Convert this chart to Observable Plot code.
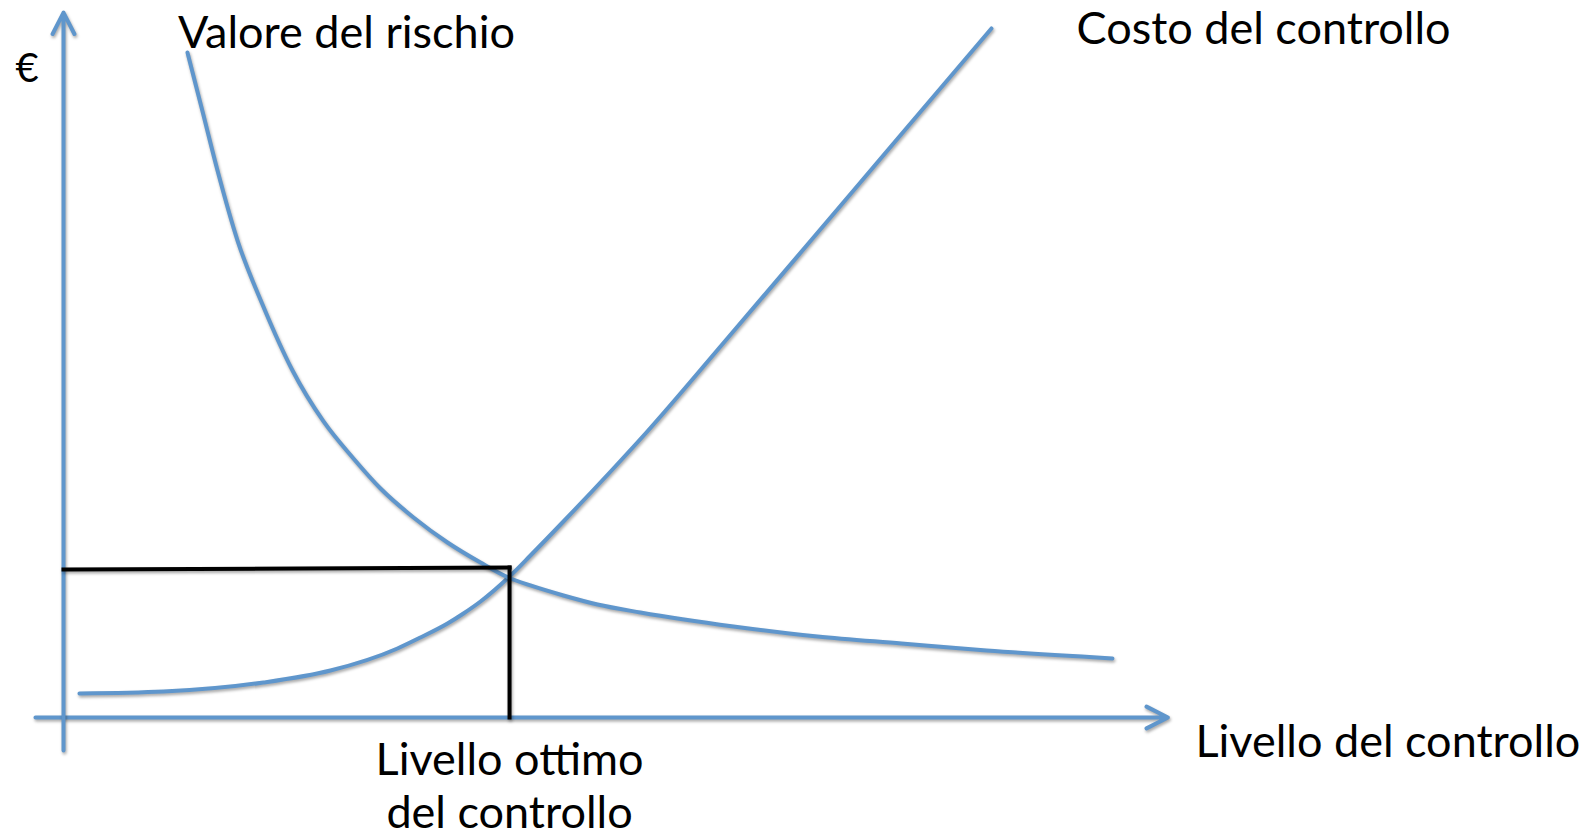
<!DOCTYPE html>
<html><head><meta charset="utf-8">
<script src="https://cdn.jsdelivr.net/npm/d3@7"></script>
<script src="https://cdn.jsdelivr.net/npm/@observablehq/plot@0.6"></script>
<style>
body{margin:0;background:#fff;}
#chart svg g[aria-label="line"], #chart svg g[aria-label="arrow"], #chart svg g[aria-label="link"] { filter: drop-shadow(1px 2px 1.5px rgba(0,0,0,0.35)); }
</style>
</head><body><div id="chart"></div>
<script>
// Costo del controllo (level of control -> cost)
const costoX = [1.45, 9.09, 18.18, 24.27, 30.36, 32.45, 34.91, 36.36, 37.91, 40.45, 42.45, 45.45, 49.91, 52.91, 60.27, 67.64, 74.91, 84.36];
const costoY = [3.43, 3.71, 5.0, 6.71, 9.86, 11.43, 13.43, 14.86, 16.57, 20.0, 23.14, 28.0, 35.43, 40.57, 54.0, 67.57, 81.0, 98.43];
// Valore del rischio
const valoreX = [11.27, 12.64, 14.0, 15.82, 18.09, 20.82, 23.64, 26.36, 28.82, 31.82, 34.91, 37.91, 40.45, 42.45, 45.45, 48.55, 52.45, 60.91, 68.55, 76.18, 83.91, 95.36];
const valoreY = [95.0, 86.57, 78.14, 68.14, 59.0, 49.57, 42.29, 37.0, 32.71, 28.57, 25.0, 22.14, 20.0, 18.86, 17.43, 16.14, 15.0, 13.0, 11.57, 10.57, 9.57, 8.43];
// Optimum level (black guide lines)
const ottimoX = 40.55;
const ottimoY = 21.43;
// Axis extents
const xAxisFrom = -2.55, xAxisTo = 100.4;
const yAxisFrom = -4.7, yAxisTo = 100.7;
// Texts
const yLabel = "€";
const xLabel = "Livello del controllo";
const valoreLabel = "Valore del rischio";
const costoLabel = "Costo del controllo";
const ottimoLabel = "Livello ottimo\ndel controllo";

const blue = "#5f96cc";
const costo = costoX.map((x, i) => ({x, y: costoY[i]}));
const valore = valoreX.map((x, i) => ({x, y: valoreY[i]}));
const fs = 45;

const chart = Plot.plot({
  width: 1581, height: 837,
  marginLeft: 63, marginRight: 418, marginTop: 17, marginBottom: 120,
  x: {domain: [0, 100], axis: null},
  y: {domain: [0, 100], axis: null},
  style: {fontFamily: "Lato, 'Open Sans', sans-serif", background: "#fff", overflow: "visible"},
  marks: [
    Plot.arrow([{x1: xAxisFrom, y1: 0, x2: xAxisTo, y2: 0}], {x1: "x1", y1: "y1", x2: "x2", y2: "y2", stroke: blue, strokeWidth: 4, headLength: 9, headAngle: 54}),
    Plot.arrow([{x1: 0, y1: yAxisFrom, x2: 0, y2: yAxisTo}], {x1: "x1", y1: "y1", x2: "x2", y2: "y2", stroke: blue, strokeWidth: 4, headLength: 9, headAngle: 54}),
    Plot.line(costo, {x: "x", y: "y", stroke: blue, strokeWidth: 4, curve: "monotone-x"}),
    Plot.line(valore, {x: "x", y: "y", stroke: blue, strokeWidth: 4, curve: "monotone-x"}),
    Plot.link([{x1: 0, y1: ottimoY - 0.3, x2: ottimoX, y2: ottimoY}, {x1: ottimoX, y1: ottimoY, x2: ottimoX, y2: 0}], {x1: "x1", y1: "y1", x2: "x2", y2: "y2", stroke: "#000", strokeWidth: 4, strokeLinecap: "square"}),
    Plot.text([yLabel], {x: -3.3, y: 92.6, text: d => d, fontSize: 40, fill: "#000"}),
    Plot.text([valoreLabel], {x: 10.4, y: 97.7, text: d => d, fontSize: fs, textAnchor: "start", fill: "#000"}),
    Plot.text([costoLabel], {x: 92.1, y: 98.3, text: d => d, fontSize: fs, textAnchor: "start", fill: "#000"}),
    Plot.text([xLabel], {x: 102.9, y: -3.65, text: d => d, fontSize: fs, textAnchor: "start", fill: "#000"}),
    Plot.text([ottimoLabel], {x: ottimoX, y: -9.6, text: d => d, fontSize: fs, lineHeight: 1.18, lineAnchor: "middle", fill: "#000"})
  ]
});
document.getElementById("chart").append(chart);
</script>
</body></html>
